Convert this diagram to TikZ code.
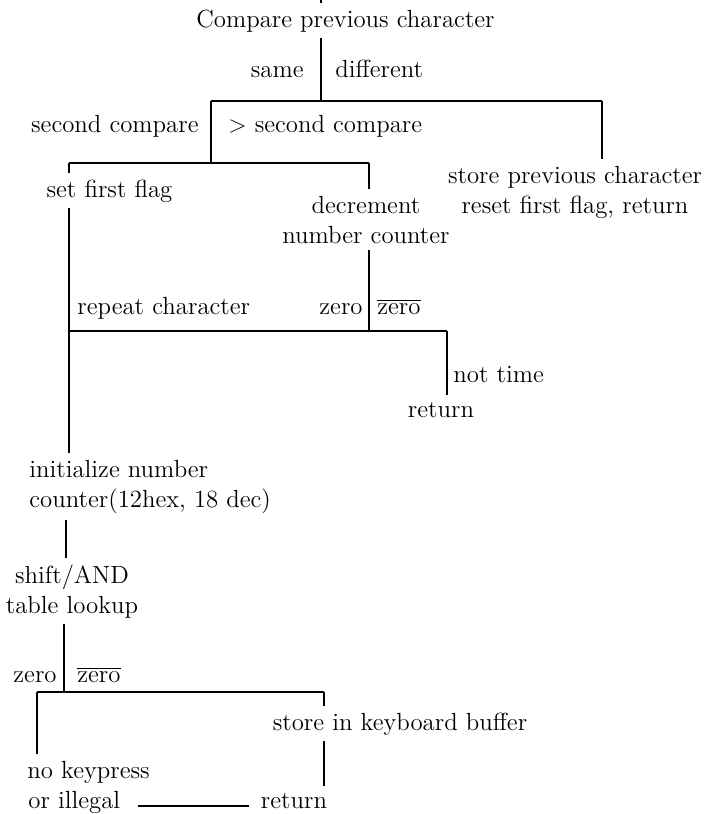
\documentclass[tikz,border=0pt]{standalone}
\begin{document}
\begin{tikzpicture}[x=0.5pt, y=-0.5pt]

  % Styles for the texts and the branch lines
  \tikzset{
    flowtext/.style={inner sep=3pt, font=\fontsize{12.4}{15}\selectfont},
    branch/.style={line width=1pt}
  }

  \useasboundingbox (0,0) rectangle (705,814);

  % Junction coordinates
  \coordinate (T) at (321,0);
  \coordinate (J1) at (321,101);
  \coordinate (J1L) at (211,101);
  \coordinate (J1R) at (602,101);
  \coordinate (J2) at (211,163);
  \coordinate (J2L) at (69,163);
  \coordinate (J2R) at (369,163);
  \coordinate (J3) at (369,331);
  \coordinate (J3L) at (69,331);
  \coordinate (J3R) at (447,331);
  \coordinate (S) at (66,540);
  \coordinate (J4) at (64,692);
  \coordinate (J4L) at (37,692);
  \coordinate (J4R) at (324,692);

  % Steps and branch labels (two-line steps sit on their last line)
  \node[flowtext, anchor=base] (cmp) at (345.5,27) {Compare previous character};
  \node[flowtext, anchor=base east] (same) at (310,77) {same};
  \node[flowtext, anchor=base west] (diff) at (329,77) {different};
  \node[flowtext, anchor=base east] (le) at (205,132) {second compare};
  \node[flowtext, anchor=base west] (gt) at (222,132) {$>$ second compare};
  \node[flowtext, anchor=base] (setflag) at (109.5,197) {set first flag};
  \node[flowtext, anchor=base, align=center] (store) at (575,213) {store previous character\\reset first flag, return};
  \node[flowtext, anchor=base, align=center] (decr) at (366,243) {decrement\\number counter};
  \node[flowtext, anchor=base west] (rep) at (71,314) {repeat character};
  \node[flowtext, anchor=base east] (zr) at (369,314) {zero};
  \node[flowtext, anchor=base west] (nzr) at (371,314) {$\overline{\mbox{zero}}$};
  \node[flowtext, anchor=base west] (nottime) at (447,382) {not time};
  \node[flowtext, anchor=base] (ret1) at (441,417) {return};
  \node[flowtext, anchor=base west, align=left] (init) at (23,507) {initialize number\\counter(12hex, 18 dec)};
  \node[flowtext, anchor=base, align=center] (shift) at (72,613) {shift/AND\\table lookup};
  \node[flowtext, anchor=base east] (zr2) at (63,682) {zero};
  \node[flowtext, anchor=base west] (nzr2) at (71,682) {$\overline{\mbox{zero}}$};
  \node[flowtext, anchor=base] (kbd) at (400,730) {store in keyboard buffer};
  \node[flowtext, anchor=base west] (nokey) at (21,778) {no keypress};
  \node[flowtext, anchor=base west] (illegal) at (22,808) {or illegal};
  \node[flowtext, anchor=base] (ret2) at (294,808) {return};

  % Branch lines
  \draw[branch] (T) -- (T |- cmp.north);
  \draw[branch] (cmp.south -| J1) -- (J1);
  \draw[branch] (J1L) -- (J1R);
  \draw[branch] (J1R) -- (J1R |- store.north);
  \draw[branch] (J1L) -- (J2);
  \draw[branch] (J2L) -- (J2R);
  \draw[branch] (J2L) -- (J2L |- setflag.north);
  \draw[branch] (J2R) -- (J2R |- decr.north);
  \draw[branch] (setflag.south -| J2L) -- (init.north -| J2L);
  \draw[branch] (decr.south -| J3) -- (J3);
  \draw[branch] (J3L) -- (J3R);
  \draw[branch] (J3R) -- (J3R |- ret1.north);
  \draw[branch] (init.south -| S) -- (shift.north -| S);
  \draw[branch] (shift.south -| J4) -- (J4);
  \draw[branch] (J4L) -- (J4R);
  \draw[branch] (J4L) -- (J4L |- nokey.north);
  \draw[branch] (J4R) -- (J4R |- kbd.north);
  \draw[branch] (kbd.south -| J4R) -- (ret2.north -| J4R);
  \draw[branch, shorten <=5.5pt, shorten >=3pt] ([yshift=1pt]illegal.base east) -- ([yshift=1pt]ret2.base west);

\end{tikzpicture}
\end{document}
